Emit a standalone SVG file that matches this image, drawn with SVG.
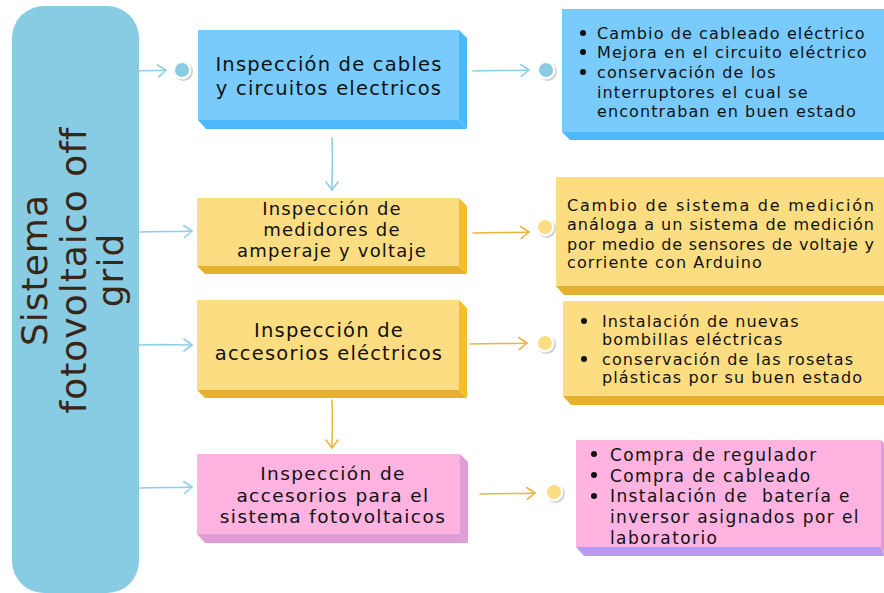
<svg xmlns="http://www.w3.org/2000/svg" width="884" height="593" viewBox="0 0 884 593">
<defs>
<style>
.t{font-family:"DejaVu Sans","Liberation Sans",sans-serif;fill:#111;}
.box{font-size:19.5px;letter-spacing:1.2px;text-anchor:middle;}
.rt{font-size:16px;letter-spacing:1.1px;}
.title{font-family:"DejaVu Sans","Liberation Sans",sans-serif;font-size:36px;letter-spacing:1px;text-anchor:middle;fill:#3A2616;}
.cb{stroke:#8DCFE6;stroke-width:1.6;fill:none;stroke-linecap:round;}
.cy{stroke:#E8B641;stroke-width:1.6;fill:none;stroke-linecap:round;}
.ring{fill:#fff;}
.sh{fill:#cfcfcf;}
</style>
<marker id="ab" markerWidth="12" markerHeight="14" refX="9" refY="7" orient="auto" markerUnits="userSpaceOnUse">
<path d="M1,1 L9,7 L1,13" fill="none" stroke="#8DCFE6" stroke-width="1.6" stroke-linecap="round" stroke-linejoin="round"/>
</marker>
<marker id="ay" markerWidth="12" markerHeight="14" refX="9" refY="7" orient="auto" markerUnits="userSpaceOnUse">
<path d="M1,1 L9,7 L1,13" fill="none" stroke="#E8B641" stroke-width="1.6" stroke-linecap="round" stroke-linejoin="round"/>
</marker>
</defs>
<rect width="884" height="593" fill="#fff"/>

<g id="root">
<rect x="12" y="6" width="127" height="587" rx="32" fill="#88CCE3"/>
<text class="title" transform="translate(47,270) rotate(-90)">Sistema</text>
<text class="title" transform="translate(86,270) rotate(-90)">fotovoltaico off</text>
<text class="title" transform="translate(123,270) rotate(-90)">grid</text>
</g>

<g id="connectors">
<path class="cb" d="M139,71 C150,70 158,71 166,70" marker-end="url(#ab)"/>
<path class="cb" d="M139,232 C160,231 176,232 192,231" marker-end="url(#ab)"/>
<path class="cb" d="M139,345 C160,344 176,345 192,345" marker-end="url(#ab)"/>
<path class="cb" d="M139,488 C160,487 176,488 192,487" marker-end="url(#ab)"/>
<path class="cb" d="M473,71 C495,70 512,71 529,70" marker-end="url(#ab)"/>
<path class="cb" d="M332,138 C333,160 332,175 332,190" marker-end="url(#ab)"/>
<path class="cy" d="M473,233 C495,232 512,233 529,232" marker-end="url(#ay)"/>
<path class="cy" d="M470,344 C492,343 510,344 527,343" marker-end="url(#ay)"/>
<path class="cy" d="M332,400 C333,420 332,435 332,448" marker-end="url(#ay)"/>
<path class="cy" d="M480,494 C500,493 518,494 535,493" marker-end="url(#ay)"/>
</g>

<g id="dot1"><circle class="sh" cx="183.5" cy="71.5" r="9.5"/><circle class="ring" cx="182" cy="70" r="9.5"/><circle cx="182" cy="70" r="7" fill="#88CCE3"/></g>
<g id="dot2"><circle class="sh" cx="547.5" cy="71.5" r="9.5"/><circle class="ring" cx="546" cy="70" r="9.5"/><circle cx="546" cy="70" r="7" fill="#88CCE3"/></g>
<g id="dot3"><circle class="sh" cx="546.5" cy="228.5" r="9.5"/><circle class="ring" cx="545" cy="227" r="9.5"/><circle cx="545" cy="227" r="7" fill="#FDDD82"/></g>
<g id="dot4"><circle class="sh" cx="546.5" cy="344.5" r="9.5"/><circle class="ring" cx="545" cy="343" r="9.5"/><circle cx="545" cy="343" r="7" fill="#FDDD82"/></g>
<g id="dot5"><circle class="sh" cx="555.5" cy="493.5" r="9.5"/><circle class="ring" cx="554" cy="492" r="9.5"/><circle cx="554" cy="492" r="7" fill="#FDDD82"/></g>

<g id="box1">
<polygon points="459,30 467,38 467,129 459,120" fill="#4DB8F9"/>
<polygon points="198,120 459,120 467,129 206,129" fill="#4DB8F9"/>
<rect x="198" y="30" width="261" height="90" fill="#79CBFD"/>
<text class="t box" x="329" y="71">Inspección de cables</text>
<text class="t box" x="329" y="95">y circuitos electricos</text>
</g>

<g id="box2">
<polygon points="459,198 467,206 467,274 459,266" fill="#F3C127"/>
<polygon points="197,266 459,266 467,274 205,274" fill="#E4B22D"/>
<rect x="197" y="198" width="262" height="68" fill="#FDDD82"/>
<text class="t box" style="font-size:18px;letter-spacing:1.2px" x="332" y="215">Inspección de</text>
<text class="t box" style="font-size:18px;letter-spacing:1.2px" x="332" y="236">medidores de</text>
<text class="t box" style="font-size:18px;letter-spacing:1.2px" x="332" y="257">amperaje y voltaje</text>
</g>

<g id="box3">
<polygon points="459,300 467,308 467,398 459,390" fill="#F3C127"/>
<polygon points="197,390 459,390 467,398 205,398" fill="#E4B22D"/>
<rect x="197" y="300" width="262" height="90" fill="#FDDD82"/>
<text class="t box" x="329" y="337">Inspección de</text>
<text class="t box" x="329" y="360">accesorios eléctricos</text>
</g>

<g id="box4">
<polygon points="460,454 468,462 468,543 460,534" fill="#DF9DD6"/>
<polygon points="197,534 460,534 468,543 205,543" fill="#DF9DD6"/>
<rect x="197" y="454" width="263" height="80" fill="#FEB3E0"/>
<text class="t box" style="font-size:18.5px;letter-spacing:1.4px" x="333" y="480">Inspección de</text>
<text class="t box" style="font-size:18.5px;letter-spacing:1.4px" x="333" y="502">accesorios para el</text>
<text class="t box" style="font-size:18.5px;letter-spacing:1.4px" x="333" y="523">sistema fotovoltaicos</text>
</g>

<g id="result1">
<polygon points="562,132 884,132 884,140 570,140" fill="#4DB8F9"/>
<rect x="562" y="9" width="322" height="123" fill="#79CBFD"/>
<g class="t rt">
<circle cx="583" cy="33" r="3" fill="#111"/><text x="597" y="39">Cambio de cableado eléctrico</text>
<circle cx="583" cy="52" r="3" fill="#111"/><text x="597" y="58">Mejora en el circuito eléctrico</text>
<circle cx="583" cy="72" r="3" fill="#111"/><text x="597" y="78">conservación de los</text>
<text x="597" y="98">interruptores el cual se</text>
<text x="597" y="117">encontraban en buen estado</text>
</g>
</g>

<g id="result2">
<polygon points="556,286 884,286 884,295 564,295" fill="#E4B22D"/>
<rect x="556" y="177" width="328" height="109" fill="#FDDD82"/>
<g class="t rt">
<text x="567" y="211" textLength="308" lengthAdjust="spacing">Cambio de sistema de medición</text>
<text x="567" y="230" textLength="308" lengthAdjust="spacing">análoga a un sistema de medición</text>
<text x="567" y="250" textLength="308" lengthAdjust="spacing">por medio de sensores de voltaje y</text>
<text x="567" y="268">corriente con Arduino</text>
</g>
</g>

<g id="result3">
<polygon points="563,396 884,396 884,405 571,405" fill="#E4B22D"/>
<rect x="563" y="301" width="321" height="95" fill="#FDDD82"/>
<g class="t rt">
<circle cx="584" cy="321" r="3" fill="#111"/><text x="602" y="327">Instalación de nuevas</text>
<text x="602" y="345">bombillas eléctricas</text>
<circle cx="584" cy="359" r="3" fill="#111"/><text x="602" y="365">conservación de las rosetas</text>
<text x="602" y="383">plásticas por su buen estado</text>
</g>
</g>

<g id="result4">
<polygon points="881,440 884,443 884,556 881,547" fill="#DF9DD6"/>
<polygon points="576,547 881,547 884,556 584,556" fill="#B79AF2"/>
<rect x="576" y="440" width="305" height="107" fill="#FEB3E0"/>
<g class="t rt" style="font-size:17px;letter-spacing:1.4px">
<circle cx="594" cy="454" r="3" fill="#111"/><text x="610" y="461">Compra de regulador</text>
<circle cx="594" cy="475" r="3" fill="#111"/><text x="610" y="482">Compra de cableado</text>
<circle cx="594" cy="496" r="3" fill="#111"/><text x="610" y="502">Instalación de&#160; batería e</text>
<text x="610" y="523">inversor asignados por el</text>
<text x="610" y="544">laboratorio</text>
</g>
</g>
</svg>
